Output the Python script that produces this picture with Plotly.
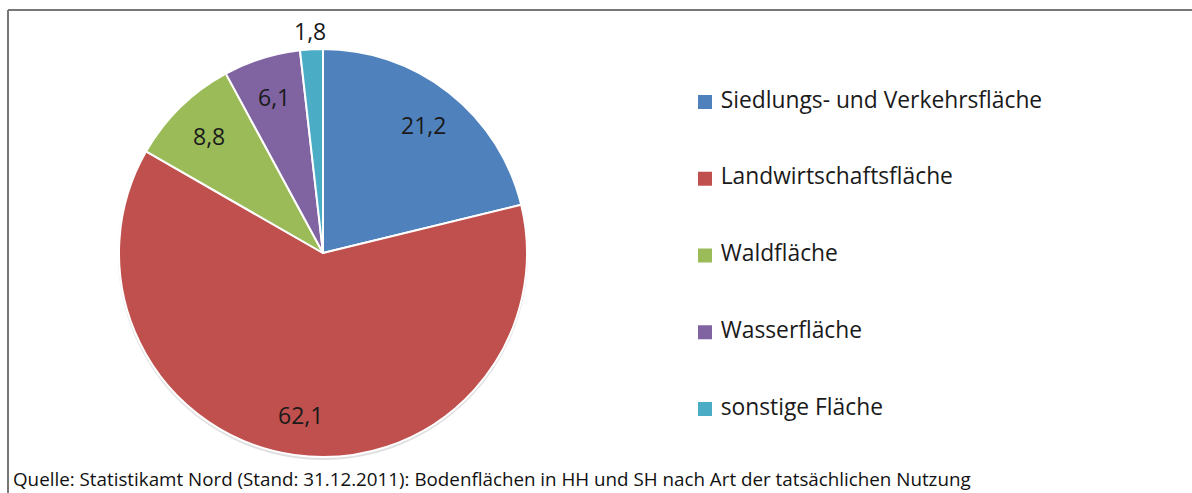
import math
import plotly.graph_objects as go

categories = ["Siedlungs- und Verkehrsfläche", "Landwirtschaftsfläche", "Waldfläche",
              "Wasserfläche", "sonstige Fläche"]
values = [21.2, 62.1, 8.8, 6.1, 1.8]
value_labels = ["21,2", "62,1", "8,8", "6,1", "1,8"]
label_inside = [True, True, True, True, False]
colors = ["#4F81BD", "#C0504D", "#9BBB59", "#8064A2", "#4BACC6"]
source_text = "Quelle: Statistikamt Nord (Stand: 31.12.2011): Bodenflächen in HH und SH nach Art der tatsächlichen Nutzung"

W, H = 1192, 493
FONT = "'Open Sans', sans-serif"
TXT = "#1a1a1a"

# pie geometry in pixels
cx, cy, r = 323, 253, 204
dom_x = [(cx - r) / W, (cx + r) / W]
dom_y = [1 - (cy + r) / H, 1 - (cy - r) / H]

fig = go.Figure()

fig.add_trace(go.Pie(
    labels=categories,
    values=values,
    textinfo="none",
    marker=dict(colors=colors, line=dict(color="white", width=2)),
    sort=False,
    direction="clockwise",
    rotation=0,
    showlegend=False,
    hoverinfo="label+value",
    domain=dict(x=dom_x, y=dom_y),
))

# value labels placed at the slice mid-angles (computed from the data)
total = sum(values)
annotations = []
cum = 0.0
for v, lab, inside in zip(values, value_labels, label_inside):
    mid = (cum + v / 2) / total * 2 * math.pi
    cum += v
    rr = r * (0.8 if inside else 1.09)
    px = cx + rr * math.sin(mid)
    py = cy - rr * math.cos(mid)
    annotations.append(dict(
        text=lab, xref="paper", yref="paper", x=px / W, y=1 - py / H,
        xanchor="center", yanchor="middle", showarrow=False,
        font=dict(family=FONT, size=23, color=TXT),
    ))

annotations.append(dict(
    text=source_text, xref="paper", yref="paper", x=11 / W, y=1 - 479 / H,
    xanchor="left", yanchor="middle", showarrow=False,
    font=dict(family=FONT, size=18.8, color="#111111"),
))

# legend drawn as a marker+text scatter on hidden axes
fig.add_trace(go.Scatter(
    x=[0] * len(categories), y=list(range(len(categories))),
    mode="markers+text", text=categories, texttemplate=" %{text}",
    textposition="middle right",
    textfont=dict(family=FONT, size=22.8, color=TXT),
    marker=dict(symbol="square", size=14, color=colors,
                line=dict(color="white", width=0)),
    cliponaxis=False, showlegend=False, hoverinfo="skip",
))

fig.update_layout(
    width=W, height=H,
    margin=dict(l=0, r=0, t=0, b=0),
    paper_bgcolor="white", plot_bgcolor="rgba(0,0,0,0)",
    xaxis=dict(visible=False, domain=[705 / W, 1.0], range=[0, 1], fixedrange=True),
    yaxis=dict(visible=False, domain=[1 - 447.4 / H, 1 - 63.6 / H], range=[4.5, -0.5], fixedrange=True),
    shapes=[
        dict(type="circle", xref="paper", yref="paper", layer="below",
             x0=(cx - r - 1) / W, x1=(cx + r + 1) / W,
             y0=1 - (cy + r + 3) / H, y1=1 - (cy - r + 1) / H,
             fillcolor="rgba(0,0,0,0.12)", line=dict(width=0)),
        dict(type="line", xref="paper", yref="paper", x0=8 / W, x1=1.0, y0=1 - 10 / H, y1=1 - 10 / H,
             line=dict(color="#777777", width=2)),
        dict(type="line", xref="paper", yref="paper", x0=8 / W, x1=8 / W, y0=0, y1=1 - 10 / H,
             line=dict(color="#777777", width=2)),
    ],
    annotations=annotations,
)

fig.write_html("out.html")
